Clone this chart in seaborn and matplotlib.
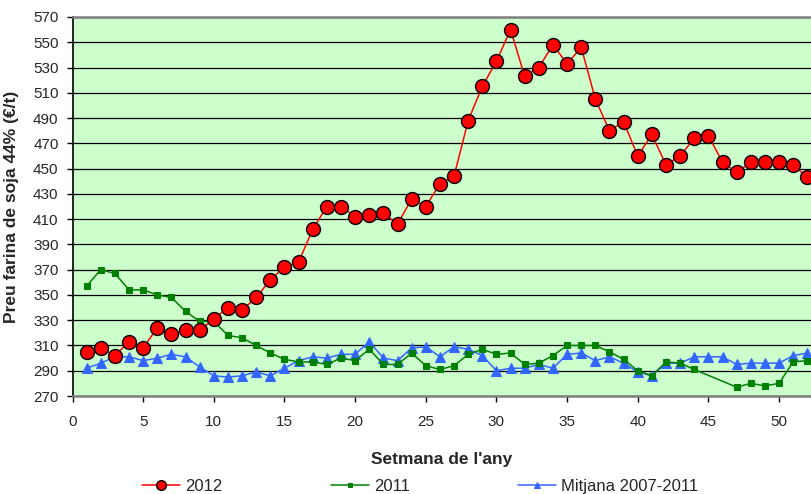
import numpy as np
import pandas as pd
import matplotlib
matplotlib.use("Agg")
import matplotlib.pyplot as plt
import seaborn as sns

weeks = list(range(1, 53))

preu_2012 = [305, 308, 302, 313, 308, 324, 319, 322, 322, 331,
             340, 338, 348, 362, 372, 376, 402, 420, 420, 412,
             413, 415, 406, 426, 420, 438, 444, 488, 515, 535,
             560, 523, 530, 548, 533, 546, 505, 480, 487, 460,
             477, 453, 460, 474, 476, 455, 447, 455, 455, 455,
             453, 443]

preu_2011 = [357, 370, 367, 354, 354, 350, 348, 337, 329, 329,
             318, 316, 310, 304, 299, 297, 297, 295, 300, 298,
             307, 295, 295, 304, 294, 291, 294, 303, 307, 303,
             304, 295, 296, 302, 310, 310, 310, 305, 299, 290,
             286, 297, 296, 291, np.nan, np.nan, 277, 280, 278, 280,
             297, 298]

mitjana = [292, 296, 301, 301, 298, 300, 303, 301, 293, 286,
           285, 286, 289, 286, 292, 298, 301, 300, 303, 303,
           313, 300, 298, 308, 309, 301, 309, 307, 302, 290,
           292, 292, 295, 292, 303, 304, 298, 301, 296, 289,
           286, 296, 296, 301, 301, 301, 295, 296, 296, 296,
           302, 304]

df = pd.DataFrame({"setmana": weeks, "2012": preu_2012, "2011": preu_2011,
                   "Mitjana 2007-2011": mitjana})

sns.set_style("white")
narrow = ['Liberation Sans Narrow', 'Liberation Sans', 'DejaVu Sans']
plt.rcParams['font.family'] = narrow

fig = plt.figure(figsize=(8.11, 4.94), dpi=100)
ax = fig.add_axes([72.5 / 811, 1 - 396 / 494, 738.5 / 811, 379 / 494])
ax.set_facecolor("#CCFFCC")

sns.lineplot(data=df, x="setmana", y="Mitjana 2007-2011", ax=ax, color="#3366FF",
             lw=1.1, marker="^", markersize=7, markeredgecolor="#3366FF",
             label="Mitjana 2007-2011", zorder=3)
sns.lineplot(data=df, x="setmana", y="2011", ax=ax, color="#008000",
             lw=1.1, marker="s", markersize=5, markeredgecolor="#008000",
             label="2011", zorder=4)
sns.lineplot(data=df, x="setmana", y="2012", ax=ax, color="#FF0000",
             lw=1.1, marker="o", markersize=10, markeredgecolor="black",
             markeredgewidth=1.0, label="2012", zorder=5)

ax.set_xlim(0, 52.26)
ax.set_ylim(270, 570)
ax.set_xticks(range(0, 51, 5))
ax.set_yticks(range(270, 571, 20))
ax.yaxis.grid(True, color="black", lw=0.9)
ax.set_axisbelow(True)
ax.tick_params(axis="both", direction="out", length=4, width=1, color="black",
               labelsize=11, left=True, bottom=True)
ax.tick_params(axis="x", pad=10)
ax.tick_params(axis="y", pad=6)

ax.spines["right"].set_visible(False)
ax.spines["left"].set_color("black")
ax.spines["left"].set_linewidth(1.2)
ax.spines["top"].set_color("#808080")
ax.spines["top"].set_linewidth(1.8)
ax.spines["bottom"].set_color("#808080")
ax.spines["bottom"].set_linewidth(1.8)

ax.set_xlabel("Setmana de l'any", fontsize=12.5, fontweight="bold",
              family=['Liberation Sans', 'DejaVu Sans'], labelpad=16)
ax.set_ylabel("Preu farina de soja 44% (€/t)", fontsize=12.5, fontweight="bold",
              family=['Liberation Sans', 'DejaVu Sans'], labelpad=10)

handles, labels = ax.get_legend_handles_labels()
order = [labels.index("2012"), labels.index("2011"), labels.index("Mitjana 2007-2011")]
ax.get_legend().remove()
fig.legend([handles[i] for i in order], [labels[i] for i in order],
           loc="lower center", bbox_to_anchor=(0.518, -0.03), ncol=3, frameon=False,
           columnspacing=6.5, handlelength=2.3, handletextpad=0.3,
           prop={'family': narrow, 'size': 12}, markerscale=0.7)

fig.savefig("out.png", dpi=100)
